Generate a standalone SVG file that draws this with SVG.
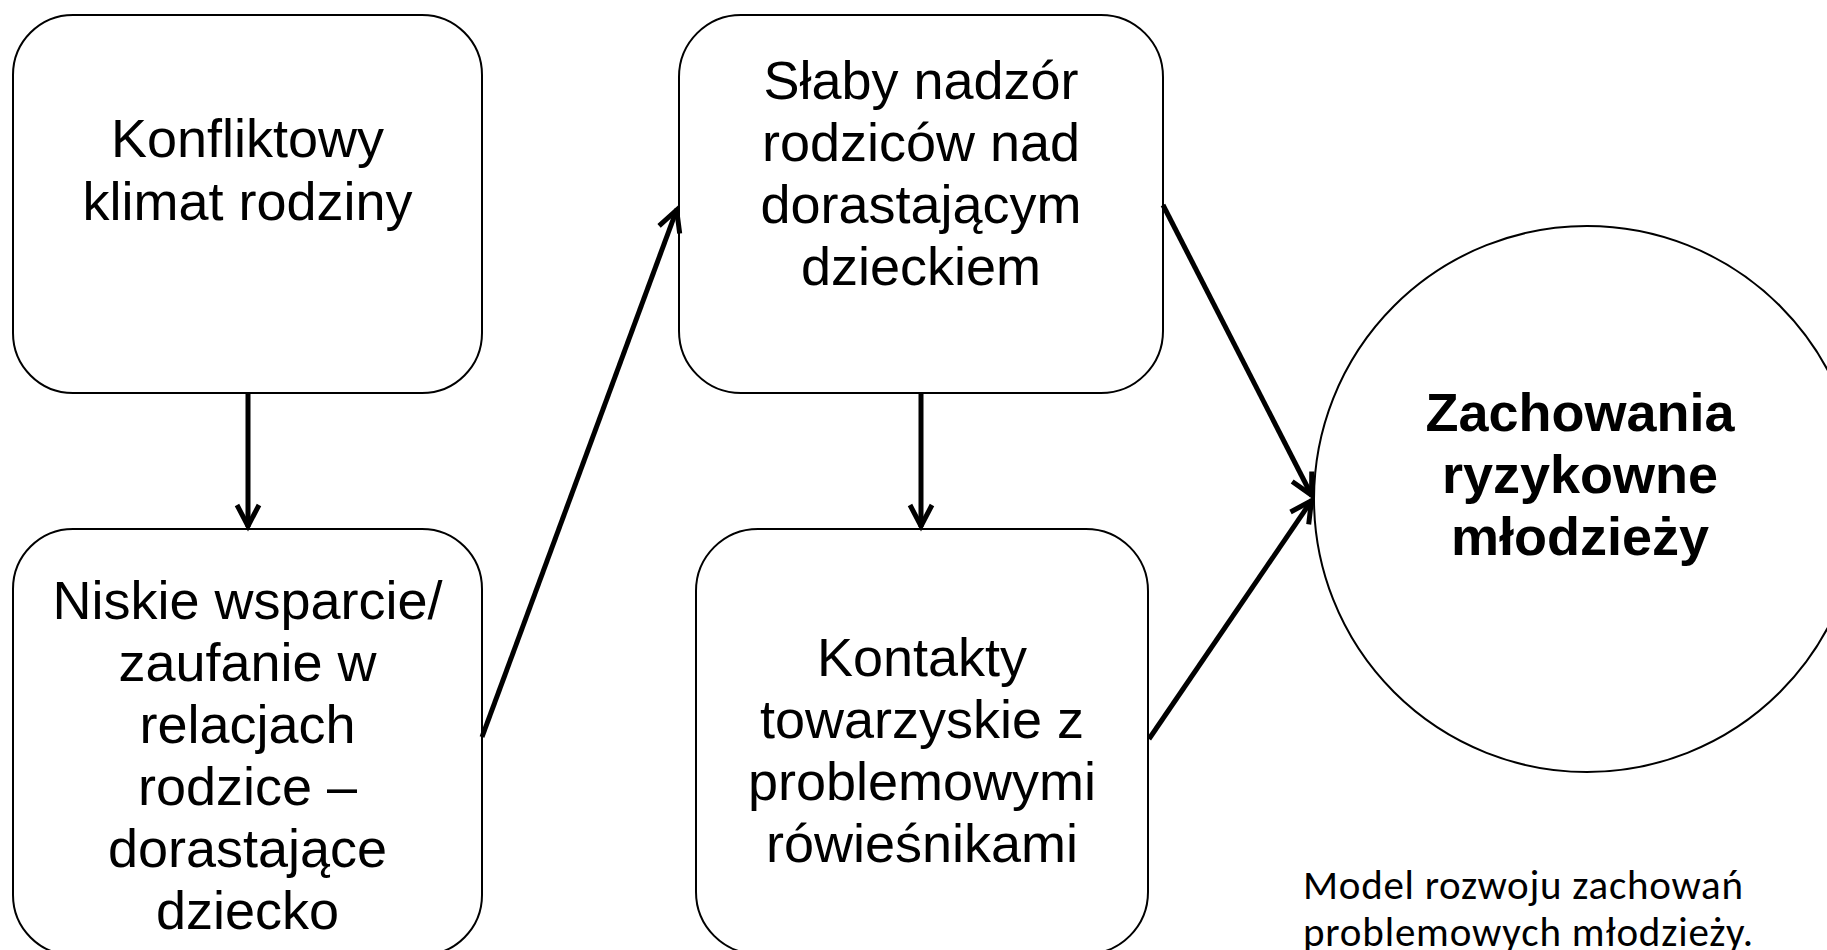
<svg xmlns="http://www.w3.org/2000/svg" width="1827" height="950" viewBox="0 0 1827 950">
  <style>
    .box { fill: #fff; stroke: #000; stroke-width: 2; }
    .t { font-family: "Liberation Sans", Arial, sans-serif; font-size: 54px; fill: #000; text-anchor: middle; }
    .b { font-weight: bold; }
    .cap { font-family: Carlito, Lato, "Liberation Sans", sans-serif; font-size: 41px; fill: #000; }
    .conn { fill: none; stroke: #000; stroke-width: 5; marker-end: url(#arr); }
  </style>
  <defs>
    <marker id="arr" markerUnits="userSpaceOnUse" markerWidth="40" markerHeight="40" viewBox="-30 -20 40 40" refX="0" refY="0" orient="auto" overflow="visible">
      <path d="M-22,-11 L-1,0 L-22,11" fill="none" stroke="#000" stroke-width="5" stroke-linejoin="miter"/>
    </marker>
  </defs>
  <rect width="1827" height="950" fill="#fff"/>

  <g id="node-konfliktowy">
    <rect class="box" x="13" y="15" width="469" height="378" rx="60" ry="60"/>
    <text class="t" x="247.5" y="157">Konfliktowy</text>
    <text class="t" x="247.5" y="220">klimat rodziny</text>
  </g>

  <g id="node-niskie">
    <rect class="box" x="13" y="529" width="469" height="426" rx="60" ry="60"/>
    <text class="t" x="247.5" y="619">Niskie wsparcie/</text>
    <text class="t" x="247.5" y="681">zaufanie w</text>
    <text class="t" x="247.5" y="743">relacjach</text>
    <text class="t" x="247.5" y="805">rodzice –</text>
    <text class="t" x="247.5" y="867">dorastające</text>
    <text class="t" x="247.5" y="929">dziecko</text>
  </g>

  <g id="node-slaby">
    <rect class="box" x="679" y="15" width="484" height="378" rx="62" ry="62"/>
    <text class="t" x="921" y="99">Słaby nadzór</text>
    <text class="t" x="921" y="161">rodziców nad</text>
    <text class="t" x="921" y="223">dorastającym</text>
    <text class="t" x="921" y="285">dzieckiem</text>
  </g>

  <g id="node-kontakty">
    <rect class="box" x="696" y="529" width="452" height="425" rx="62" ry="62"/>
    <text class="t" x="922" y="676">Kontakty</text>
    <text class="t" x="922" y="738">towarzyskie z</text>
    <text class="t" x="922" y="800">problemowymi</text>
    <text class="t" x="922" y="862">rówieśnikami</text>
  </g>

  <g id="node-zachowania">
    <circle class="box" cx="1587" cy="499" r="273"/>
    <text class="t b" x="1580" y="431">Zachowania</text>
    <text class="t b" x="1580" y="493">ryzykowne</text>
    <text class="t b" x="1580" y="555">młodzieży</text>
  </g>

  <g id="caption">
    <text class="cap" x="1303" y="899" textLength="440" lengthAdjust="spacing">Model rozwoju zachowań</text>
    <text class="cap" x="1303" y="946" textLength="450" lengthAdjust="spacing">problemowych młodzieży.</text>
  </g>

  <g id="connectors">
    <line class="conn" x1="248" y1="393" x2="248" y2="527"/>
    <line class="conn" x1="482" y1="737" x2="677" y2="209"/>
    <line class="conn" x1="921" y1="393" x2="921" y2="527"/>
    <line class="conn" x1="1163" y1="205" x2="1312" y2="496"/>
    <line class="conn" x1="1149" y1="739" x2="1312" y2="500"/>
  </g>
</svg>
